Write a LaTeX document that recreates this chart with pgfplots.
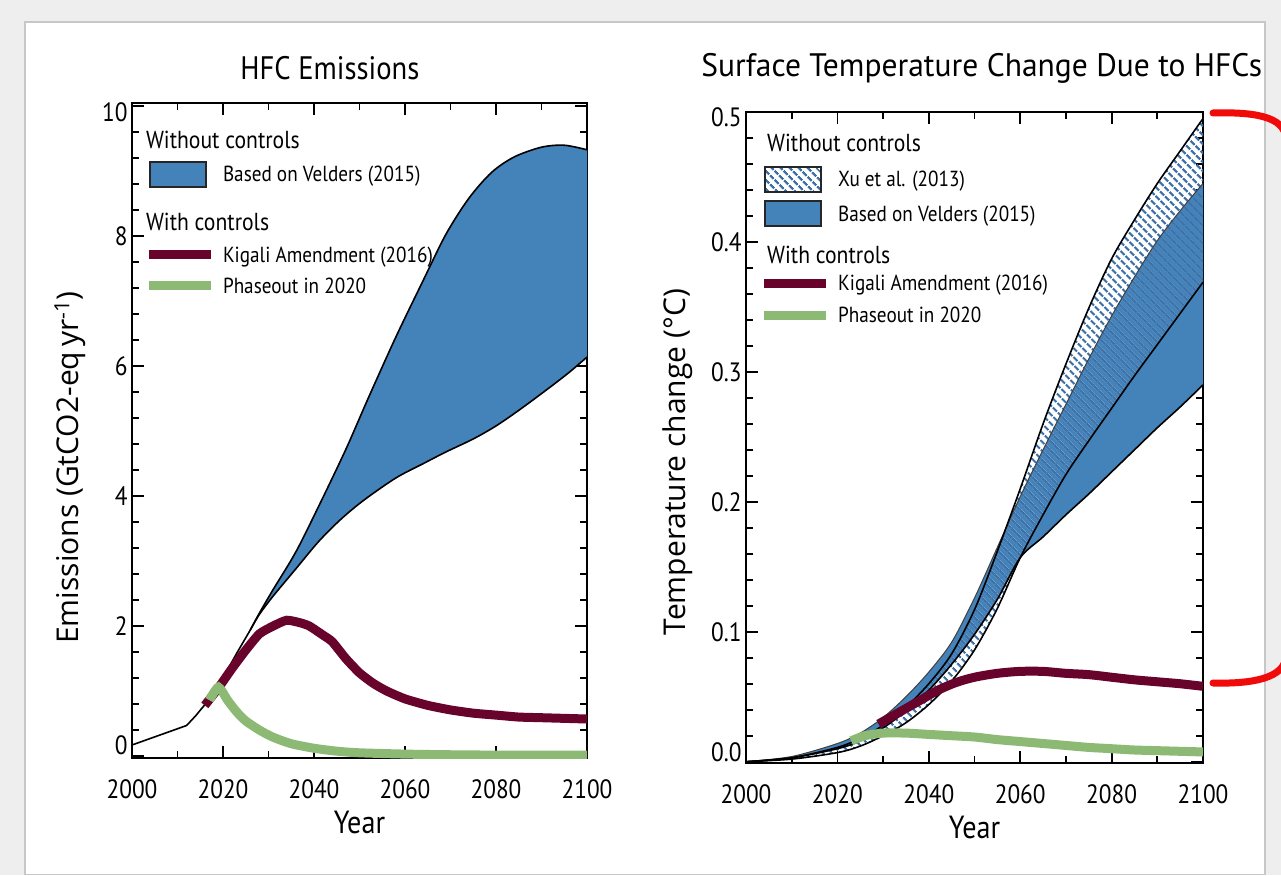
\documentclass[border=0pt]{standalone}
\usepackage{fontspec}
\setmainfont{PT Sans}[FakeStretch=0.88]
\newfontfamily\titleR{PT Sans}[FakeStretch=0.97]
\newfontfamily\labfont{Open Sans}
\usepackage{pgfplots}
\pgfplotsset{compat=1.18}
\usetikzlibrary{patterns.meta}
\definecolor{vblue}{RGB}{68,130,186}
\definecolor{kig}{RGB}{104,4,44}
\definecolor{pgreen}{RGB}{140,186,116}
\definecolor{hatchc}{RGB}{62,112,168}
\definecolor{bgc}{RGB}{238,238,238}
\definecolor{redb}{RGB}{240,10,10}
\newcommand\ls[1]{\rule[-8pt]{0pt}{\dimexpr 8pt+#1pt\relax}}
\newcommand\hd{\fontsize{24.6}{26}\selectfont}

\pgfplotsset{
  base/.style={
    scale only axis,
    xmin=2000, xmax=2100,
    xtick={2000,2020,...,2100},
    minor xtick={2000,2010,...,2100},
    axis line style={line width=2.4pt},
    every tick/.style={black, line width=1.8pt},
    major tick length=12pt, minor tick length=7pt,
    tick align=inside,
    tick label style={font=\fontsize{26.5}{26.5}\selectfont},
    /pgf/number format/assume math mode=true,
    /pgf/number format/1000 sep={},
    xticklabel style={yshift=-18pt},
    yticklabel style={xshift=-1pt},
  },
  leg/.style={legend style={draw=none, fill=none, inner sep=0pt,
    font=\fontsize{21.8}{24}\selectfont, row sep=0pt, /tikz/column sep=6pt,
    nodes={inner sep=2pt, anchor=base west}, cells={anchor=base west}}},
  limg/.style={legend image code/.code={\draw[##1] (0pt,7.5pt) -- (62pt,7.5pt);}},
  bimg/.style={legend image code/.code={\draw[##1] (1pt,-5pt) rectangle (57pt,20pt);}},
}

\begin{document}
\begin{tikzpicture}
\fill[bgc] (0pt,0pt) rectangle (1281pt,875pt);
\filldraw[fill=white, draw=black!22, line width=1.5pt] (25pt,0.75pt) rectangle (1265pt,853pt);

% ---------------- Left panel ----------------
\begin{axis}[base, leg,
  at={(132pt,117pt)}, anchor=south west, width=455pt, height=655pt,
  ymin=-0.03, ymax=10.05,
  ytick={0,2,...,10},
  yticklabels={\smash{\raisebox{1.7pt}{0}},2,4,6,8,\smash{\raisebox{-15.3pt}{10}}},
  minor ytick={0,0.4,...,10},
  title={HFC Emissions},
  title style={at={(rel axis cs:0.435,1.0443)}, anchor=center, font=\fontsize{32.5}{32.5}\selectfont},
  xlabel={Year},
  xlabel style={at={(rel axis cs:0.5,-0.0977)}, anchor=center, font=\fontsize{32}{32}\selectfont},
  ylabel={\labfont Emissions (GtCO2-eq\,yr\textsuperscript{-1})},
  ylabel style={at={(rel axis cs:-0.136,0.4435)}, anchor=center, font=\fontsize{30}{30}\selectfont},
  legend style={at={(rel axis cs:0.026,0.964)}, anchor=north west},
]
% band (polygon)
\addplot[fill=vblue, draw=none, forget plot, smooth, tension=0.5] coordinates {
(2026,1.94)(2028,2.2)(2031,2.56)(2036,3.14)(2041,3.84)(2047,4.72)(2052,5.52)(2058,6.45)(2064,7.32)(2069,8.03)(2074,8.58)(2079,8.98)(2084,9.22)(2090,9.37)(2095,9.4)(2100,9.33)(2104,9.25)
(2104,6.35)(2100,6.14)(2096,5.9)(2091,5.63)(2085,5.32)(2080,5.08)(2075,4.88)(2069,4.68)(2064,4.5)(2058,4.28)(2051,3.94)(2046,3.65)(2041,3.3)(2036,2.88)(2031,2.46)(2028,2.18)(2026,1.94)} -- cycle;
\addplot[black, line width=1.6pt, forget plot, smooth, tension=0.5] coordinates {
(2026,1.94)(2028,2.2)(2031,2.56)(2036,3.14)(2041,3.84)(2047,4.72)(2052,5.52)(2058,6.45)(2064,7.32)(2069,8.03)(2074,8.58)(2079,8.98)(2084,9.22)(2090,9.37)(2095,9.4)(2100,9.33)};
\addplot[black, line width=1.6pt, forget plot, smooth, tension=0.5] coordinates {
(2026,1.94)(2028,2.18)(2031,2.46)(2036,2.88)(2041,3.3)(2046,3.65)(2051,3.94)(2058,4.28)(2064,4.5)(2069,4.68)(2075,4.88)(2080,5.08)(2085,5.32)(2091,5.63)(2096,5.9)(2100,6.14)};
% historical
\addplot[black, line width=1.6pt, forget plot] coordinates {
(2000,0.17)(2004,0.27)(2008,0.37)(2012,0.47)(2014,0.62)(2016,0.79)(2018,0.98)(2020,1.2)(2023,1.58)(2026,1.94)};
% Kigali
\addplot[kig, line width=9pt, forget plot, smooth, tension=0.35] coordinates {
(2016,0.78)(2019,1.05)(2022,1.35)(2025,1.63)(2028,1.88)(2031,2.0)(2034,2.09)(2037,2.05)(2039,2.0)(2042,1.86)(2044,1.76)(2047,1.5)(2050,1.28)(2053,1.12)(2056,1.0)(2060,0.88)(2065,0.78)(2070,0.71)(2075,0.66)(2080,0.63)(2085,0.6)(2090,0.59)(2095,0.58)(2100,0.57)};
% Phaseout
\addplot[pgreen, line width=9pt, forget plot, smooth, tension=0.4] coordinates {
(2017,0.86)(2019,1.06)(2021,0.86)(2023,0.68)(2025,0.54)(2028,0.4)(2031,0.29)(2035,0.19)(2040,0.12)(2045,0.075)(2050,0.05)(2060,0.03)(2070,0.02)(2080,0.015)(2100,0.015)};
% legend
\addlegendimage{empty legend}
\addlegendentry{\ls{20}\hspace*{-77pt}\hd Without controls}
\addlegendimage{bimg, fill=vblue, draw=black!85, line width=2pt}
\addlegendentry{\ls{27.5}Based on Velders (2015)}
\addlegendimage{empty legend}
\addlegendentry{\ls{40.6}\hspace*{-77pt}\hd With controls}
\addlegendimage{limg, kig, line width=9pt}
\addlegendentry{\ls{26.5}Kigali Amendment (2016)}
\addlegendimage{limg, pgreen, line width=9pt}
\addlegendentry{\ls{25.5}Phaseout in 2020}
\end{axis}

% ---------------- Right panel ----------------
\begin{axis}[base, leg,
  at={(746pt,112pt)}, anchor=south west, width=457pt, height=651pt,
  ymin=-0.001, ymax=0.5,
  ytick={0,0.1,...,0.5},
  yticklabels={\smash{\raisebox{0.7pt}{0.0}},0.1,0.2,0.3,0.4,\smash{\raisebox{-14.3pt}{0.5}}},
  minor ytick={0,0.02,...,0.5},
  title={\titleR Surface Temperature Change Due to HFCs},
  title style={at={(rel axis cs:0.516,1.057)}, anchor=center, font=\fontsize{32.5}{32.5}\selectfont},
  xlabel={Year},
  xlabel style={at={(rel axis cs:0.5,-0.0998)}, anchor=center, font=\fontsize{32}{32}\selectfont},
  ylabel={\labfont Temperature change (°C)},
  ylabel style={at={(rel axis cs:-0.149,0.462)}, anchor=center, font=\fontsize{30}{30}\selectfont},
  legend style={at={(rel axis cs:0.0284,0.973)}, anchor=north west},
]
% Velders band
\addplot[fill=vblue, draw=none, forget plot, smooth, tension=0.5] coordinates {
(2000,0)(2010,0.004)(2020,0.014)(2025,0.022)(2030,0.034)(2035,0.05)(2040,0.069)(2045,0.092)(2050,0.126)(2055,0.165)(2060,0.204)(2065,0.24)(2070,0.275)(2075,0.31)(2080,0.343)(2085,0.373)(2090,0.401)(2095,0.424)(2100,0.445)(2104,0.462)
(2104,0.303)(2100,0.29)(2095,0.273)(2090,0.257)(2085,0.24)(2080,0.223)(2075,0.206)(2070,0.19)(2065,0.173)(2060,0.157)(2055,0.125)(2050,0.098)(2045,0.075)(2040,0.055)(2035,0.039)(2030,0.026)(2025,0.016)(2020,0.01)(2010,0.003)(2000,0)} -- cycle;
% Xu band (hatched)
\addplot[pattern={Lines[angle=-45,distance=6.5pt,line width=2.6pt]}, pattern color=hatchc, draw=none, forget plot, smooth, tension=0.5] coordinates {
(2000,0)(2010,0.003)(2020,0.011)(2025,0.018)(2030,0.028)(2035,0.042)(2040,0.06)(2045,0.083)(2050,0.117)(2055,0.162)(2060,0.21)(2065,0.26)(2070,0.306)(2075,0.349)(2080,0.387)(2085,0.417)(2090,0.445)(2095,0.47)(2100,0.495)(2104,0.515)
(2104,0.388)(2100,0.369)(2095,0.345)(2090,0.321)(2085,0.297)(2080,0.272)(2075,0.247)(2070,0.221)(2065,0.19)(2060,0.157)(2055,0.118)(2050,0.086)(2045,0.062)(2040,0.044)(2035,0.03)(2030,0.02)(2025,0.012)(2020,0.007)(2010,0.002)(2000,0)} -- cycle;
\addplot[black!75, line width=1.0pt, forget plot, smooth, tension=0.5] coordinates {
(2000,0)(2010,0.004)(2020,0.014)(2025,0.022)(2030,0.034)(2035,0.05)(2040,0.069)(2045,0.092)(2050,0.126)(2055,0.165)(2060,0.204)(2065,0.24)(2070,0.275)(2075,0.31)(2080,0.343)(2085,0.373)(2090,0.401)(2095,0.424)(2100,0.445)};
\addplot[black, line width=1.6pt, forget plot, smooth, tension=0.5] coordinates {
(2000,0)(2010,0.003)(2020,0.01)(2025,0.016)(2030,0.026)(2035,0.039)(2040,0.055)(2045,0.075)(2050,0.098)(2055,0.125)(2060,0.157)(2065,0.173)(2070,0.19)(2075,0.206)(2080,0.223)(2085,0.24)(2090,0.257)(2095,0.273)(2100,0.29)};
\addplot[black, line width=1.6pt, forget plot, smooth, tension=0.5] coordinates {
(2000,0)(2010,0.003)(2020,0.011)(2025,0.018)(2030,0.028)(2035,0.042)(2040,0.06)(2045,0.083)(2050,0.117)(2055,0.162)(2060,0.21)(2065,0.26)(2070,0.306)(2075,0.349)(2080,0.387)(2085,0.417)(2090,0.445)(2095,0.47)(2100,0.495)};
\addplot[black, line width=1.6pt, forget plot, smooth, tension=0.5] coordinates {
(2000,0)(2010,0.002)(2020,0.007)(2025,0.012)(2030,0.02)(2035,0.03)(2040,0.044)(2045,0.062)(2050,0.086)(2055,0.118)(2060,0.157)(2065,0.19)(2070,0.221)(2075,0.247)(2080,0.272)(2085,0.297)(2090,0.321)(2095,0.345)(2100,0.369)};
% Kigali
\addplot[kig, line width=9pt, forget plot, smooth, tension=0.5] coordinates {
(2029,0.029)(2032,0.035)(2035,0.041)(2038,0.047)(2042,0.055)(2046,0.061)(2050,0.065)(2055,0.068)(2060,0.0695)(2065,0.0695)(2070,0.068)(2075,0.067)(2080,0.065)(2085,0.063)(2090,0.0615)(2095,0.06)(2100,0.058)};
% Phaseout
\addplot[pgreen, line width=9pt, forget plot, smooth, tension=0.5] coordinates {
(2023,0.016)(2026,0.02)(2030,0.022)(2035,0.022)(2040,0.021)(2045,0.02)(2050,0.019)(2055,0.017)(2060,0.0155)(2065,0.014)(2070,0.0125)(2075,0.011)(2080,0.01)(2085,0.009)(2090,0.0085)(2095,0.008)(2100,0.0075)};
% legend
\addlegendimage{empty legend}
\addlegendentry{\ls{20}\hspace*{-71pt}\hd Without controls}
\addlegendimage{bimg, pattern={Lines[angle=-45,distance=6.5pt,line width=2.6pt]}, pattern color=hatchc, draw=black!85, line width=2pt}
\addlegendentry{\ls{29.5}Xu et al. (2013)}
\addlegendimage{bimg, fill=vblue, draw=black!85, line width=2pt}
\addlegendentry{\ls{26.5}Based on Velders (2015)}
\addlegendimage{empty legend}
\addlegendentry{\ls{34.5}\hspace*{-71pt}\hd With controls}
\addlegendimage{limg, kig, line width=9pt}
\addlegendentry{\ls{21.5}Kigali Amendment (2016)}
\addlegendimage{limg, pgreen, line width=9pt}
\addlegendentry{\ls{26.5}Phaseout in 2020}
\end{axis}

% red bracket annotation
\draw[overlay, redb, line width=7pt, line cap=round] (1213pt,762pt) .. controls (1250pt,763pt) and (1286pt,760pt) .. (1286pt,735pt) -- (1286pt,220pt) .. controls (1286pt,196pt) and (1250pt,191pt) .. (1213pt,192pt);
\end{tikzpicture}
\end{document}
